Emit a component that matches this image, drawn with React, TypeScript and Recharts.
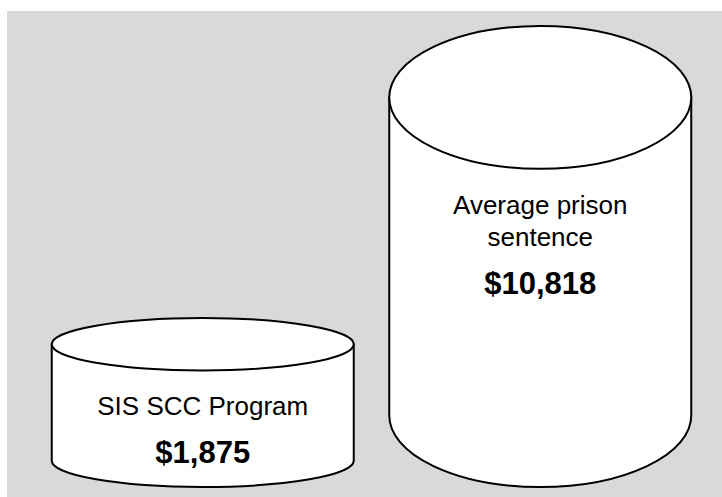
import { BarChart, Bar, XAxis, YAxis } from "recharts"

// cost per offender
const programs = ["SIS SCC Program", "Average prison sentence"]
const programLines = [["SIS SCC Program"], ["Average prison", "sentence"]]
const costs = [1875, 10818]

// the cylinders do not start at zero in the original drawing
const AXIS_FLOOR = -3300
const AXIS_TOP = 11000

const data = programs.map((name, i) => ({
  name,
  cost: costs[i],
  lines: programLines[i],
}))

const FONT = "'Liberation Sans', Arial, Helvetica, sans-serif"

function Cylinder(props: any) {
  const { x, y, width, height, payload } = props
  const ry = height * 0.155
  const rx = width / 2
  const cx = x + rx
  const top = y + ry
  const bottom = y + height - ry

  const body = `M ${x} ${top} L ${x} ${bottom} A ${rx} ${ry} 0 0 0 ${x + width} ${bottom} L ${x + width} ${top} Z`

  const firstLine = top + ry + 45
  const lines: string[] = payload.lines
  const valueY = firstLine + (lines.length - 1) * 32 + 48

  return (
    <g>
      <path d={body} fill="#ffffff" stroke="#000000" strokeWidth={2} />
      <ellipse cx={cx} cy={top} rx={rx} ry={ry} fill="#ffffff" stroke="#000000" strokeWidth={2} />
      {lines.map((line, i) => (
        <text
          key={line}
          x={cx}
          y={firstLine + i * 32}
          textAnchor="middle"
          fontFamily={FONT}
          fontSize={26}
          fill="#000000"
        >
          {line}
        </text>
      ))}
      <text
        x={cx}
        y={valueY}
        textAnchor="middle"
        fontFamily={FONT}
        fontSize={31}
        fontWeight="bold"
        fill="#000000"
      >
        {"$" + payload.cost.toLocaleString("en-US")}
      </text>
    </g>
  )
}

export default function App() {
  return (
    <div style={{ position: "absolute", left: 0, top: 0, width: 722, height: 497, background: "#ffffff" }}>
      <div style={{ position: "absolute", left: 7, top: 11, width: 715, height: 486, background: "#d9d9d9" }}>
        <BarChart
          width={715}
          height={486}
          data={data}
          barSize={302}
          margin={{ top: 9, right: 13.25, bottom: 10, left: 26.75 }}
        >
          <XAxis dataKey="name" hide />
          <YAxis type="number" domain={[AXIS_FLOOR, AXIS_TOP]} hide />
          <Bar
            dataKey={(d: any) => [AXIS_FLOOR, d.cost]}
            shape={<Cylinder />}
            isAnimationActive={false}
          />
        </BarChart>
      </div>
    </div>
  )
}
